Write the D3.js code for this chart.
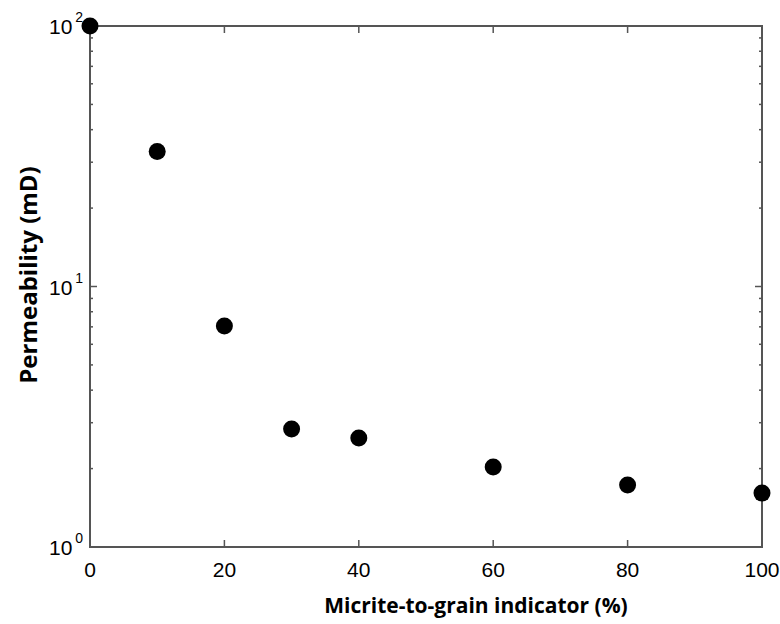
<!DOCTYPE html>
<html>
<head>
<meta charset="utf-8">
<script src="https://cdn.jsdelivr.net/npm/d3@7"></script>
<style>
  body { margin: 0; background: #fff; }
  svg { display: block; }
</style>
</head>
<body>
<script>
"use strict";
// micrite-to-grain indicator (%) vs permeability (mD)
const indicator = [0, 10, 20, 30, 40, 60, 80, 100];
const permeability = [100, 33, 7.05, 2.84, 2.62, 2.03, 1.73, 1.61];
const xTicks = [0, 20, 40, 60, 80, 100];
const yDecades = [0, 1, 2];

const width = 780, height = 624;
const margin = {top: 26, right: 18, bottom: 77, left: 90};
const plotW = width - margin.left - margin.right;
const plotH = height - margin.top - margin.bottom;

const svg = d3.select("body").append("svg")
    .attr("width", width)
    .attr("height", height);

const x = d3.scaleLinear().domain([0, 100]).range([0, plotW]);
const y = d3.scaleLog().domain([1, 100]).range([plotH, 0]);

const g = svg.append("g").attr("transform", `translate(${margin.left},${margin.top})`);

// minor ticks for log axis
const minorVals = [];
for (let d = 1; d < 100; d *= 10) {
    for (let k = 2; k <= 9; k++) minorVals.push(d * k);
}
const axisColor = "#555";

// left / right tick marks (inward)
[0, plotW].forEach((xPos, i) => {
    const dir = i === 0 ? 1 : -1;
    g.selectAll(null).data(minorVals).enter().append("line")
        .attr("x1", xPos).attr("x2", xPos + dir * 3)
        .attr("y1", d => y(d)).attr("y2", d => y(d))
        .attr("stroke", axisColor).attr("stroke-width", 1.5);
    g.selectAll(null).data(yDecades.map(e => Math.pow(10, e))).enter().append("line")
        .attr("x1", xPos).attr("x2", xPos + dir * 7)
        .attr("y1", d => y(d)).attr("y2", d => y(d))
        .attr("stroke", axisColor).attr("stroke-width", 1.5);
});

// bottom / top tick marks (inward)
[plotH, 0].forEach((yPos, i) => {
    const dir = i === 0 ? -1 : 1;
    g.selectAll(null).data(xTicks).enter().append("line")
        .attr("x1", d => x(d)).attr("x2", d => x(d))
        .attr("y1", yPos).attr("y2", yPos + dir * 7)
        .attr("stroke", axisColor).attr("stroke-width", 1.5);
});

// box
g.append("rect")
    .attr("width", plotW).attr("height", plotH)
    .attr("fill", "none")
    .attr("stroke", axisColor).attr("stroke-width", 2);

// x tick labels
g.selectAll(".xlab").data(xTicks).enter().append("text")
    .attr("class", "xlab")
    .attr("x", d => x(d))
    .attr("y", plotH + 30)
    .attr("text-anchor", "middle")
    .attr("font-family", "Liberation Sans, Arial, sans-serif")
    .attr("font-size", 21)
    .attr("fill", "#000")
    .text(d => d);

// y tick labels 10^n
const ylab = g.selectAll(".ylab").data(yDecades).enter().append("text")
    .attr("class", "ylab")
    .attr("x", -41)
    .attr("y", d => y(Math.pow(10, d)) + 8)
    .attr("text-anchor", "start")
    .attr("font-family", "Liberation Sans, Arial, sans-serif")
    .attr("font-size", 21)
    .attr("fill", "#000");
ylab.append("tspan").text("10");
ylab.append("tspan")
    .attr("dx", 3)
    .attr("dy", -12)
    .attr("font-size", 14)
    .text(d => d);

// points
g.selectAll(".pt").data(indicator).enter().append("circle")
    .attr("class", "pt")
    .attr("cx", (d, i) => x(d))
    .attr("cy", (d, i) => y(permeability[i]))
    .attr("r", 8.5)
    .attr("fill", "#000");

// axis titles
svg.append("text")
    .attr("x", 476)
    .attr("y", 613)
    .attr("text-anchor", "middle")
    .attr("font-family", "Open Sans, Noto Sans, sans-serif")
    .attr("font-weight", "bold")
    .attr("font-size", 21)
    .attr("fill", "#000")
    .text("Micrite-to-grain indicator (%)");

svg.append("text")
    .attr("transform", "translate(37,275) rotate(-90)")
    .attr("text-anchor", "middle")
    .attr("font-family", "Open Sans, Noto Sans, sans-serif")
    .attr("font-weight", "bold")
    .attr("font-size", 24)
    .attr("fill", "#000")
    .text("Permeability (mD)");
</script>
</body>
</html>
